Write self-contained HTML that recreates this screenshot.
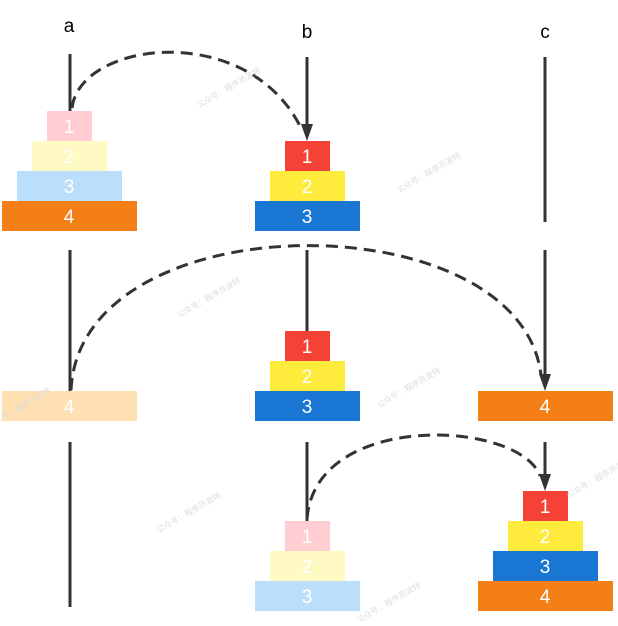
<!DOCTYPE html>
<html><head><style>
body{margin:0;background:#fff;}
svg text{font-family:"Liberation Sans","Noto Sans CJK SC",sans-serif;}
</style></head><body>
<svg width="618" height="621" viewBox="0 0 618 621" xmlns="http://www.w3.org/2000/svg">
<defs><marker id="ar" markerWidth="10" markerHeight="14" refX="5" refY="13" orient="auto" markerUnits="userSpaceOnUse"><path d="M0,0 L10,0 L5,14 Z" fill="#333" transform="rotate(0)"/></marker></defs>
<g font-size="19" fill="#000" text-anchor="middle">
<text x="69" y="32">a</text><text x="307" y="38">b</text><text x="545" y="38">c</text>
</g>
<g stroke="#333" stroke-width="3">
<line x1="70" y1="54" x2="70" y2="111"/>
<line x1="307" y1="57" x2="307" y2="128"/>
<line x1="545" y1="57" x2="545" y2="222"/>
<line x1="70" y1="250" x2="70" y2="391"/>
<line x1="307" y1="250" x2="307" y2="331"/>
<line x1="545" y1="250" x2="545" y2="378"/>
<line x1="70" y1="442" x2="70" y2="607"/>
<line x1="307" y1="442" x2="307" y2="521"/>
<line x1="545" y1="442" x2="545" y2="478"/>
</g>
<g fill="#333">
<path d="M301,124 L313,124 L307,141 Z"/>
<path d="M539,374 L551,374 L545,391 Z"/>
<path d="M539,474 L551,474 L545,491 Z"/>
</g>
<g fill="none" stroke="#333" stroke-width="3" stroke-dasharray="12,7">
<path d="M72,108 C80,40 250,20 302,130"/>
<path d="M71,390 C80,200 520,200 541,375"/>
<path d="M307,519 C315,410 520,420 540,476"/>
</g>
<g font-size="19" fill="#fff" text-anchor="middle">
<rect x="47" y="111" width="45" height="30" fill="#ffcdd2"/><text x="69" y="133">1</text>
<rect x="32" y="141" width="75" height="30" fill="#fff9c4"/><text x="69" y="163">2</text>
<rect x="17" y="171" width="105" height="30" fill="#bbdefb"/><text x="69" y="193">3</text>
<rect x="2" y="201" width="135" height="30" fill="#f57f17"/><text x="69" y="223">4</text>
<rect x="285" y="141" width="45" height="30" fill="#f44336"/><text x="307" y="163">1</text>
<rect x="270" y="171" width="75" height="30" fill="#ffeb3b"/><text x="307" y="193">2</text>
<rect x="255" y="201" width="105" height="30" fill="#1976d2"/><text x="307" y="223">3</text>
<rect x="2" y="391" width="135" height="30" fill="#ffe0b2"/><text x="69" y="413">4</text>
<rect x="285" y="331" width="45" height="30" fill="#f44336"/><text x="307" y="353">1</text>
<rect x="270" y="361" width="75" height="30" fill="#ffeb3b"/><text x="307" y="383">2</text>
<rect x="255" y="391" width="105" height="30" fill="#1976d2"/><text x="307" y="413">3</text>
<rect x="478" y="391" width="135" height="30" fill="#f57f17"/><text x="545" y="413">4</text>
<rect x="285" y="521" width="45" height="30" fill="#ffcdd2"/><text x="307" y="543">1</text>
<rect x="270" y="551" width="75" height="30" fill="#fff9c4"/><text x="307" y="573">2</text>
<rect x="255" y="581" width="105" height="30" fill="#bbdefb"/><text x="307" y="603">3</text>
<rect x="523" y="491" width="45" height="30" fill="#f44336"/><text x="545" y="513">1</text>
<rect x="508" y="521" width="75" height="30" fill="#ffeb3b"/><text x="545" y="543">2</text>
<rect x="493" y="551" width="105" height="30" fill="#1976d2"/><text x="545" y="573">3</text>
<rect x="478" y="581" width="135" height="30" fill="#f57f17"/><text x="545" y="603">4</text>
</g>
<g font-size="8" fill="#ddd" text-anchor="middle">
<text transform="translate(230,90) rotate(-30)">公众号：程序员波特</text>
<text transform="translate(430,175) rotate(-30)">公众号：程序员波特</text>
<text transform="translate(210,300) rotate(-30)">公众号：程序员波特</text>
<text transform="translate(410,390) rotate(-30)">公众号：程序员波特</text>
<text transform="translate(190,515) rotate(-30)">公众号：程序员波特</text>
<text transform="translate(390,605) rotate(-30)">公众号：程序员波特</text>
<text transform="translate(20,410) rotate(-30)">公众号：程序员波特</text>
<text transform="translate(600,480) rotate(-30)">公众号：程序员波特</text>
</g>
</svg>
</body></html>
